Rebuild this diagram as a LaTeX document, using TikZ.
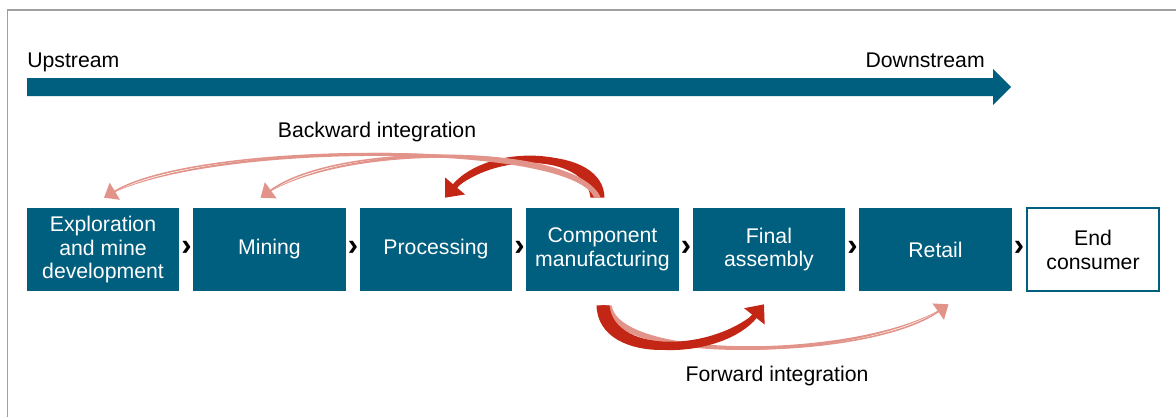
\documentclass[tikz,border=0pt]{standalone}
\usepackage{fontspec}
\setmainfont{Liberation Sans}
\usetikzlibrary{arrows.meta,calc}

\definecolor{chainblue}{RGB}{0,94,126}
\definecolor{intred}{RGB}{196,38,22}
\definecolor{intpink}{RGB}{226,148,138}
\definecolor{framegray}{RGB}{160,160,160}

\tikzset{
  stage/.style={fill=chainblue, text=white, minimum width=3.8cm, minimum height=2.075cm,
    align=center, inner sep=0pt, font=\fontsize{15.1pt}{17pt}\selectfont},
  endstage/.style={stage, fill=white, draw=chainblue, line width=1.4pt, text=black, minimum width=3.3cm},
  chev/.style={inner sep=0pt, font=\fontsize{22pt}{22pt}\selectfont\bfseries},
  lbl/.style={inner sep=0pt, font=\fontsize{15.1pt}{17pt}\selectfont},
  thinint/.style={draw=intpink, line width=1.1pt, -{Triangle[length=9pt,width=14pt]}},
  thickint/.style={draw=intred, line width=4pt, -{Triangle[length=11pt,width=18pt]}}
}

\begin{document}
\begin{tikzpicture}[x=0.025cm, y=-0.025cm]
 \useasboundingbox (0,0) rectangle (1176,417);

 % frame
 \draw[framegray, line width=1.1pt] (7.5,417) -- (7.5,10) -- (1176,10);

 % up/down stream
 \node[lbl, anchor=base west] (up) at (27,67) {Upstream};
 \node[lbl, anchor=base east] (down) at (985,67) {Downstream};
 \fill[chainblue] (27,78) -- (993,78) -- (993,69) -- (1011,87) -- (993,105) -- (993,96) -- (27,96) -- cycle;

 % value chain
 \node[stage] (expl) at (103,249.5) {Exploration\\and mine\\development};
 \node[stage] (mine) at (269.5,249.5) {Mining};
 \node[stage] (proc) at (436,249.5) {Processing};
 \node[stage] (comp) at (602.5,249.5) {Component\\manufacturing};
 \node[stage] (final) at (769,249.5) {Final\\assembly};
 \node[stage] (retail) at (935.5,249.5) {Retail};
 \node[endstage] (cons) at (1093,249.5) {End\\consumer};

 \node[chev] (ch1) at (186.5,248) {›};
 \node[chev] (ch2) at (353,248) {›};
 \node[chev] (ch3) at (519.5,248) {›};
 \node[chev] (ch4) at (686,248) {›};
 \node[chev] (ch5) at (852.5,248) {›};
 \node[chev] (ch6) at (1019,248) {›};

 \coordinate (bsrc) at ($(comp.north)+(-5,-10)$);
 \coordinate (texpl) at ($(expl.north)+(1,-10)$);
 \coordinate (tmine) at ($(mine.north)+(-9,-10)$);
 \coordinate (tproc) at ($(proc.north)+(9,-10)$);
 \coordinate (fsrc) at ($(comp.south)+(0,14)$);
 \coordinate (tfinal) at ($(final.south)+(-5,13)$);
 \coordinate (tretail) at ($(retail.south)+(13,13)$);

 % backward integration
 \node[lbl, anchor=base] (back) at (377,137) {Backward integration};
 \fill[intred] ($(bsrc)+(7,0)$) .. controls (604,146) and (490,141) .. (tproc)
   .. controls (490,149) and (586,154) .. ($(bsrc)+(-7,0)$) -- cycle;
 \draw[thickint] (bsrc) .. controls (595,150) and (490,145) .. (tproc);

 \fill[intpink] ($(bsrc)+(3,0)$) .. controls (579,138) and (200,138) .. (texpl)
   .. controls (200,142) and (571,142) .. ($(bsrc)+(-3,0)$) -- cycle;
 \draw[thinint] (bsrc) .. controls (575,140) and (200,140) .. (texpl);
 \fill[intpink] ($(bsrc)+(3,0)$) .. controls (579,143) and (340,138) .. (tmine)
   .. controls (340,142) and (571,147) .. ($(bsrc)+(-3,0)$) -- cycle;
 \draw[thinint] (bsrc) .. controls (575,145) and (340,140) .. (tmine);

 % forward integration
 \node[lbl, anchor=base] (fwd) at (777,381) {Forward integration};
 \fill[intpink] ($(fsrc)+(1,0)$) .. controls (609,368) and (870,362) .. (tretail)
   .. controls (870,358) and (621,362) .. ($(fsrc)+(9,0)$) -- cycle;
 \draw[thinint] ($(fsrc)+(5,0)$) .. controls (615,365) and (870,360) .. (tretail);

 \fill[intred] ($(fsrc)+(-6,0)$) .. controls (598,368) and (722,362) .. (tfinal)
   .. controls (722,352) and (614,356) .. ($(fsrc)+(7,0)$) -- cycle;
 \draw[thickint] (fsrc) .. controls (606,362) and (722,357) .. (tfinal);

\end{tikzpicture}
\end{document}
